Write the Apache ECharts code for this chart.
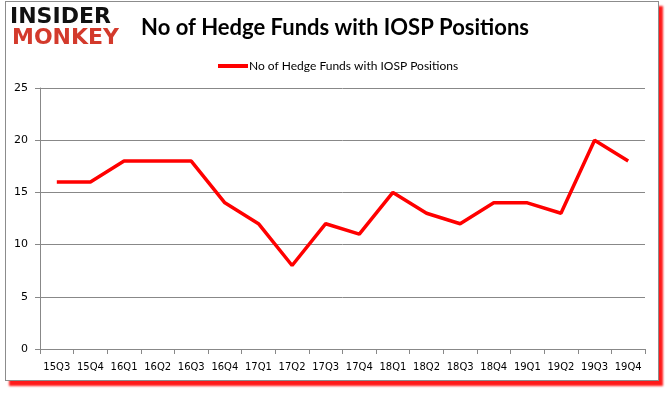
<!DOCTYPE html>
<html><head><meta charset="utf-8">
<script src="https://cdn.jsdelivr.net/npm/echarts@6/dist/echarts.min.js"></script>
<style>
html,body{margin:0;padding:0;background:#fff;}
#frame{position:absolute;left:5px;top:1px;width:652px;height:378px;border:1px solid #8c8c8c;box-shadow:4px 5px 2px #ff1a1a;background:#fff;}
#chart{position:absolute;left:0;top:0;width:665px;height:393px;}
</style></head>
<body>
<div id="frame"></div>
<div id="chart"></div>
<script>
const categories = ["15Q3","15Q4","16Q1","16Q2","16Q3","16Q4","17Q1","17Q2","17Q3","17Q4","18Q1","18Q2","18Q3","18Q4","19Q1","19Q2","19Q3","19Q4"];
const hedgeFunds = [16,16,18,18,18,14,12,8,12,11,15,13,12,14,14,13,20,18];
const seriesName = "No of Hedge Funds with IOSP Positions";
const titleText = "No of Hedge Funds with IOSP Positions";

const chart = echarts.init(document.getElementById('chart'), null, {renderer:'canvas'});
chart.setOption({
  backgroundColor: 'transparent',
  animation: false,
  title: {
    text: titleText, left: 330, top: 12, textAlign: 'center',
    textStyle: {fontFamily: 'Lato', fontWeight: 'bold', fontSize: 22, color: '#000'}
  },
  legend: {
    top: 55, left: 213,
    itemWidth: 30, itemHeight: 4, itemGap: 2,
    icon: 'rect',
    textStyle: {fontFamily: 'Lato', fontSize: 12, color: '#000', padding: [0,0,0,-4]},
    data: [seriesName]
  },
  grid: {left: 40, right: 20, top: 88, bottom: 44},
  xAxis: {
    type: 'category', data: categories, boundaryGap: true,
    axisLine: {lineStyle: {color: '#888'}},
    axisTick: {show: true, length: 5, interval: 0, lineStyle: {color: '#888'}},
    axisLabel: {fontFamily: 'DejaVu Sans', fontSize: 10, color: '#000', margin: 13, interval: 0}
  },
  yAxis: {
    type: 'value', min: 0, max: 25, interval: 5,
    axisLine: {show: true, lineStyle: {color: '#888'}},
    axisTick: {show: true, length: 5, lineStyle: {color: '#888'}},
    splitLine: {lineStyle: {color: '#888'}},
    axisLabel: {fontFamily: 'DejaVu Sans', fontSize: 11, color: '#000', margin: 12}
  },
  graphic: [
    {type:'text', left: 10, top: 6, style:{text:'INSIDER', font:'bold 22px "DejaVu Sans"', fill:'#111'}},
    {type:'text', left: 12, top: 27, style:{text:'MONKEY', font:'bold 22px "DejaVu Sans"', fill:'#d33a2c'}}
  ],
  series: [{
    name: seriesName, type: 'line', data: hedgeFunds,
    symbol: 'none', lineStyle: {color: '#ff0000', width: 3.5},
    itemStyle: {color: '#ff0000'}
  }]
});
</script>
</body></html>
